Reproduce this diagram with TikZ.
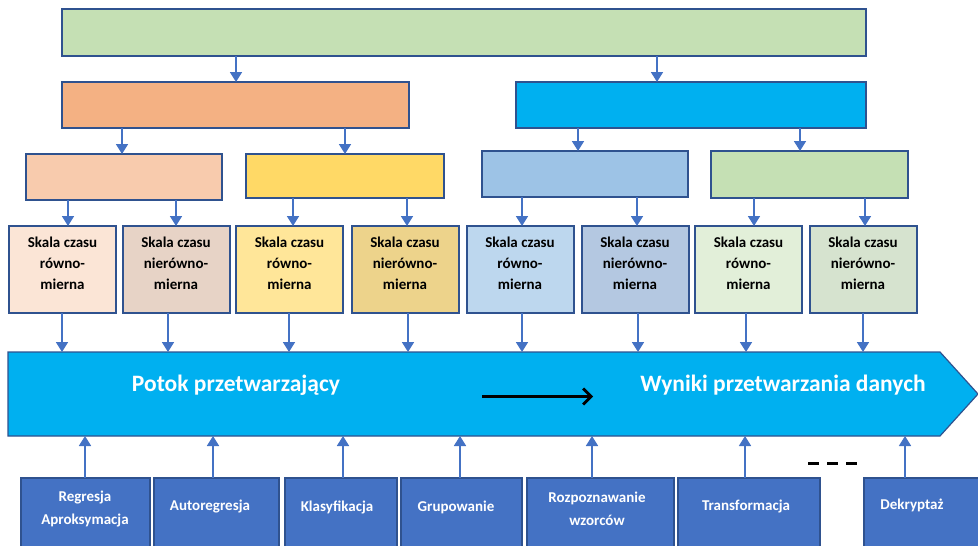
\documentclass[tikz,border=0pt]{standalone}
\usepackage{fontspec}
\setmainfont{Carlito}
\usetikzlibrary{arrows.meta,shapes.misc}
\definecolor{bord}{HTML}{2F528F}
\definecolor{arrc}{HTML}{4472C4}
\definecolor{cTop}{HTML}{C5E0B4}
\definecolor{cOra}{HTML}{F4B183}
\definecolor{cBlu}{HTML}{00B0F0}
\definecolor{cPea}{HTML}{F8CBAD}
\definecolor{cYel}{HTML}{FFD966}
\definecolor{cLbl}{HTML}{9DC3E6}
\definecolor{cLgr}{HTML}{C5E0B4}
\definecolor{sA}{HTML}{FBE5D6}
\definecolor{sB}{HTML}{E7D3C6}
\definecolor{sC}{HTML}{FFE699}
\definecolor{sD}{HTML}{EDD38B}
\definecolor{sE}{HTML}{BDD7EE}
\definecolor{sF}{HTML}{B4C8E1}
\definecolor{sG}{HTML}{E2EFD9}
\definecolor{sH}{HTML}{D6E3CF}
\tikzset{
  hbox/.style={draw=bord, line width=2pt, inner sep=0pt, outer sep=0pt, rectangle},
  sbox/.style={hbox, minimum width=107pt, minimum height=87pt},
  stext/.style={font=\bfseries\fontsize{15}{21}\selectfont, align=center, text=black},
  bbox/.style={chamfered rectangle, chamfered rectangle corners=north east,
    chamfered rectangle xsep=12pt, chamfered rectangle ysep=12pt,
    draw=bord, line width=1.2pt, fill=arrc, inner sep=0pt, outer sep=0pt, minimum height=90pt},
  btext/.style={font=\bfseries\fontsize{15}{23}\selectfont, align=center, text=white},
  bigtext/.style={font=\bfseries\fontsize{23.5}{28}\selectfont, text=white},
  arr/.style={draw=arrc, line width=1.7pt, -{Triangle[width=12pt,length=10pt]}},
}
\begin{document}
\begin{tikzpicture}[x=1pt,y=-1pt]
\clip (0,0) rectangle (978,546);
\useasboundingbox (0,0) rectangle (978,546);
% level 1
\node[hbox, fill=cTop, minimum width=804pt, minimum height=47pt] (top) at (464,32.5) {};
% level 2
\node[hbox, fill=cOra, minimum width=347pt, minimum height=46pt] (ora) at (235.5,105) {};
\node[hbox, fill=cBlu, minimum width=350pt, minimum height=46pt] (blu) at (691,105) {};
% level 3
\node[hbox, fill=cPea, minimum width=196pt, minimum height=46pt] (pea) at (124,177) {};
\node[hbox, fill=cYel, minimum width=198pt, minimum height=44pt] (yel) at (345,176) {};
\node[hbox, fill=cLbl, minimum width=206pt, minimum height=46pt] (lbl) at (585,174) {};
\node[hbox, fill=cLgr, minimum width=197pt, minimum height=47pt] (lgr) at (809.5,174.5) {};
% level 4
\node[sbox, fill=sA] (s1) at (62.5,269.5) {};
\node[sbox, fill=sB] (s2) at (176,269.5) {};
\node[sbox, fill=sC] (s3) at (289.5,269.5) {};
\node[sbox, fill=sD] (s4) at (405,269.5) {};
\node[sbox, fill=sE] (s5) at (520,269.5) {};
\node[sbox, fill=sF] (s6) at (635,269.5) {};
\node[sbox, fill=sG] (s7) at (748.5,269.5) {};
\node[sbox, fill=sH] (s8) at (863,269.5) {};
\foreach \n/\t in {s1/równo-, s2/nierówno-, s3/równo-, s4/nierówno-, s5/równo-, s6/nierówno-, s7/równo-, s8/nierówno-}{
  \node[stext] at ([yshift=6.5pt]\n.center) {Skala czasu\\\t\\mierna};
}
% flow arrow
\coordinate (ftop) at (0,352);
\coordinate (fbot) at (0,436);
\path[draw=bord, line width=1.2pt, fill=cBlu] (8,352) -- (940,352) -- (978,394) -- (940,436) -- (8,436) -- cycle;
\node[bigtext] (potok) at (236,385) {Potok przetwarzający};
\node[bigtext] (wyn) at (783,385) {Wyniki przetwarzania danych};
\coordinate (ba) at (482,396.5);
\coordinate (bb) at (593,396.5);
\draw[black, line width=2.7pt, -{Straight Barb[length=8pt,width=16pt]}] (ba) -- (bb);
% arrows level1->2
\draw[arr] (top.south -| 236,0) -- (ora.north -| 236,0);
\draw[arr] (top.south -| 657,0) -- (blu.north -| 657,0);
% level2->3
\draw[arr] (ora.south -| 122,0) -- (pea.north -| 122,0);
\draw[arr] (ora.south -| 345,0) -- (yel.north -| 345,0);
\draw[arr] (blu.south -| 578,0) -- (lbl.north -| 578,0);
\draw[arr] (blu.south -| 800,0) -- (lgr.north -| 800,0);
% level3->4
\draw[arr] (pea.south -| 68,0) -- (s1.north -| 68,0);
\draw[arr] (pea.south -| 176,0) -- (s2.north -| 176,0);
\draw[arr] (yel.south -| 293,0) -- (s3.north -| 293,0);
\draw[arr] (yel.south -| 407,0) -- (s4.north -| 407,0);
\draw[arr] (lbl.south -| 522,0) -- (s5.north -| 522,0);
\draw[arr] (lbl.south -| 637,0) -- (s6.north -| 637,0);
\draw[arr] (lgr.south -| 754,0) -- (s7.north -| 754,0);
\draw[arr] (lgr.south -| 865,0) -- (s8.north -| 865,0);
% level4->flow
\draw[arr] (s1.south -| 62,0) -- (ftop -| 62,0);
\draw[arr] (s2.south -| 168,0) -- (ftop -| 168,0);
\draw[arr] (s3.south -| 289,0) -- (ftop -| 289,0);
\draw[arr] (s4.south -| 408,0) -- (ftop -| 408,0);
\draw[arr] (s5.south -| 522,0) -- (ftop -| 522,0);
\draw[arr] (s6.south -| 638,0) -- (ftop -| 638,0);
\draw[arr] (s7.south -| 746,0) -- (ftop -| 746,0);
\draw[arr] (s8.south -| 863,0) -- (ftop -| 863,0);
% bottom boxes
\node[bbox, minimum width=129pt] (b1) at (85.5,523) {};
\node[bbox, minimum width=125pt] (b2) at (216.5,523) {};
\node[bbox, minimum width=112pt] (b3) at (341,523) {};
\node[bbox, minimum width=121pt] (b4) at (461.5,523) {};
\node[bbox, minimum width=147pt] (b5) at (600.5,523) {};
\node[bbox, minimum width=142pt] (b6) at (749,523) {};
\node[bbox, minimum width=116pt] (b7) at (922,523) {};
\node[btext] at (85,509) {Regresja\\Aproksymacja};
\node[btext] at (210,507) {Autoregresja};
\node[btext] at (337,507) {Klasyfikacja};
\node[btext] at (456,507) {Grupowanie};
\node[btext] at (597,509) {Rozpoznawanie\\wzorców};
\node[btext] at (746,506) {Transformacja};
\node[btext] at (912,505) {Dekryptaż};
\draw[arr] (b1.north -| 85,0) -- (fbot -| 85,0);
\draw[arr] (b2.north -| 213,0) -- (fbot -| 213,0);
\draw[arr] (b3.north -| 343,0) -- (fbot -| 343,0);
\draw[arr] (b4.north -| 460,0) -- (fbot -| 460,0);
\draw[arr] (b5.north -| 592,0) -- (fbot -| 592,0);
\draw[arr] (b6.north -| 745,0) -- (fbot -| 745,0);
\draw[arr] (b7.north -| 905,0) -- (fbot -| 905,0);
% dashes
\coordinate (d1) at (808,463.5);
\coordinate (d2) at (857,463.5);
\draw[black, line width=3pt, dash pattern=on 11pt off 8pt] (d1) -- (d2);
\end{tikzpicture}
\end{document}
